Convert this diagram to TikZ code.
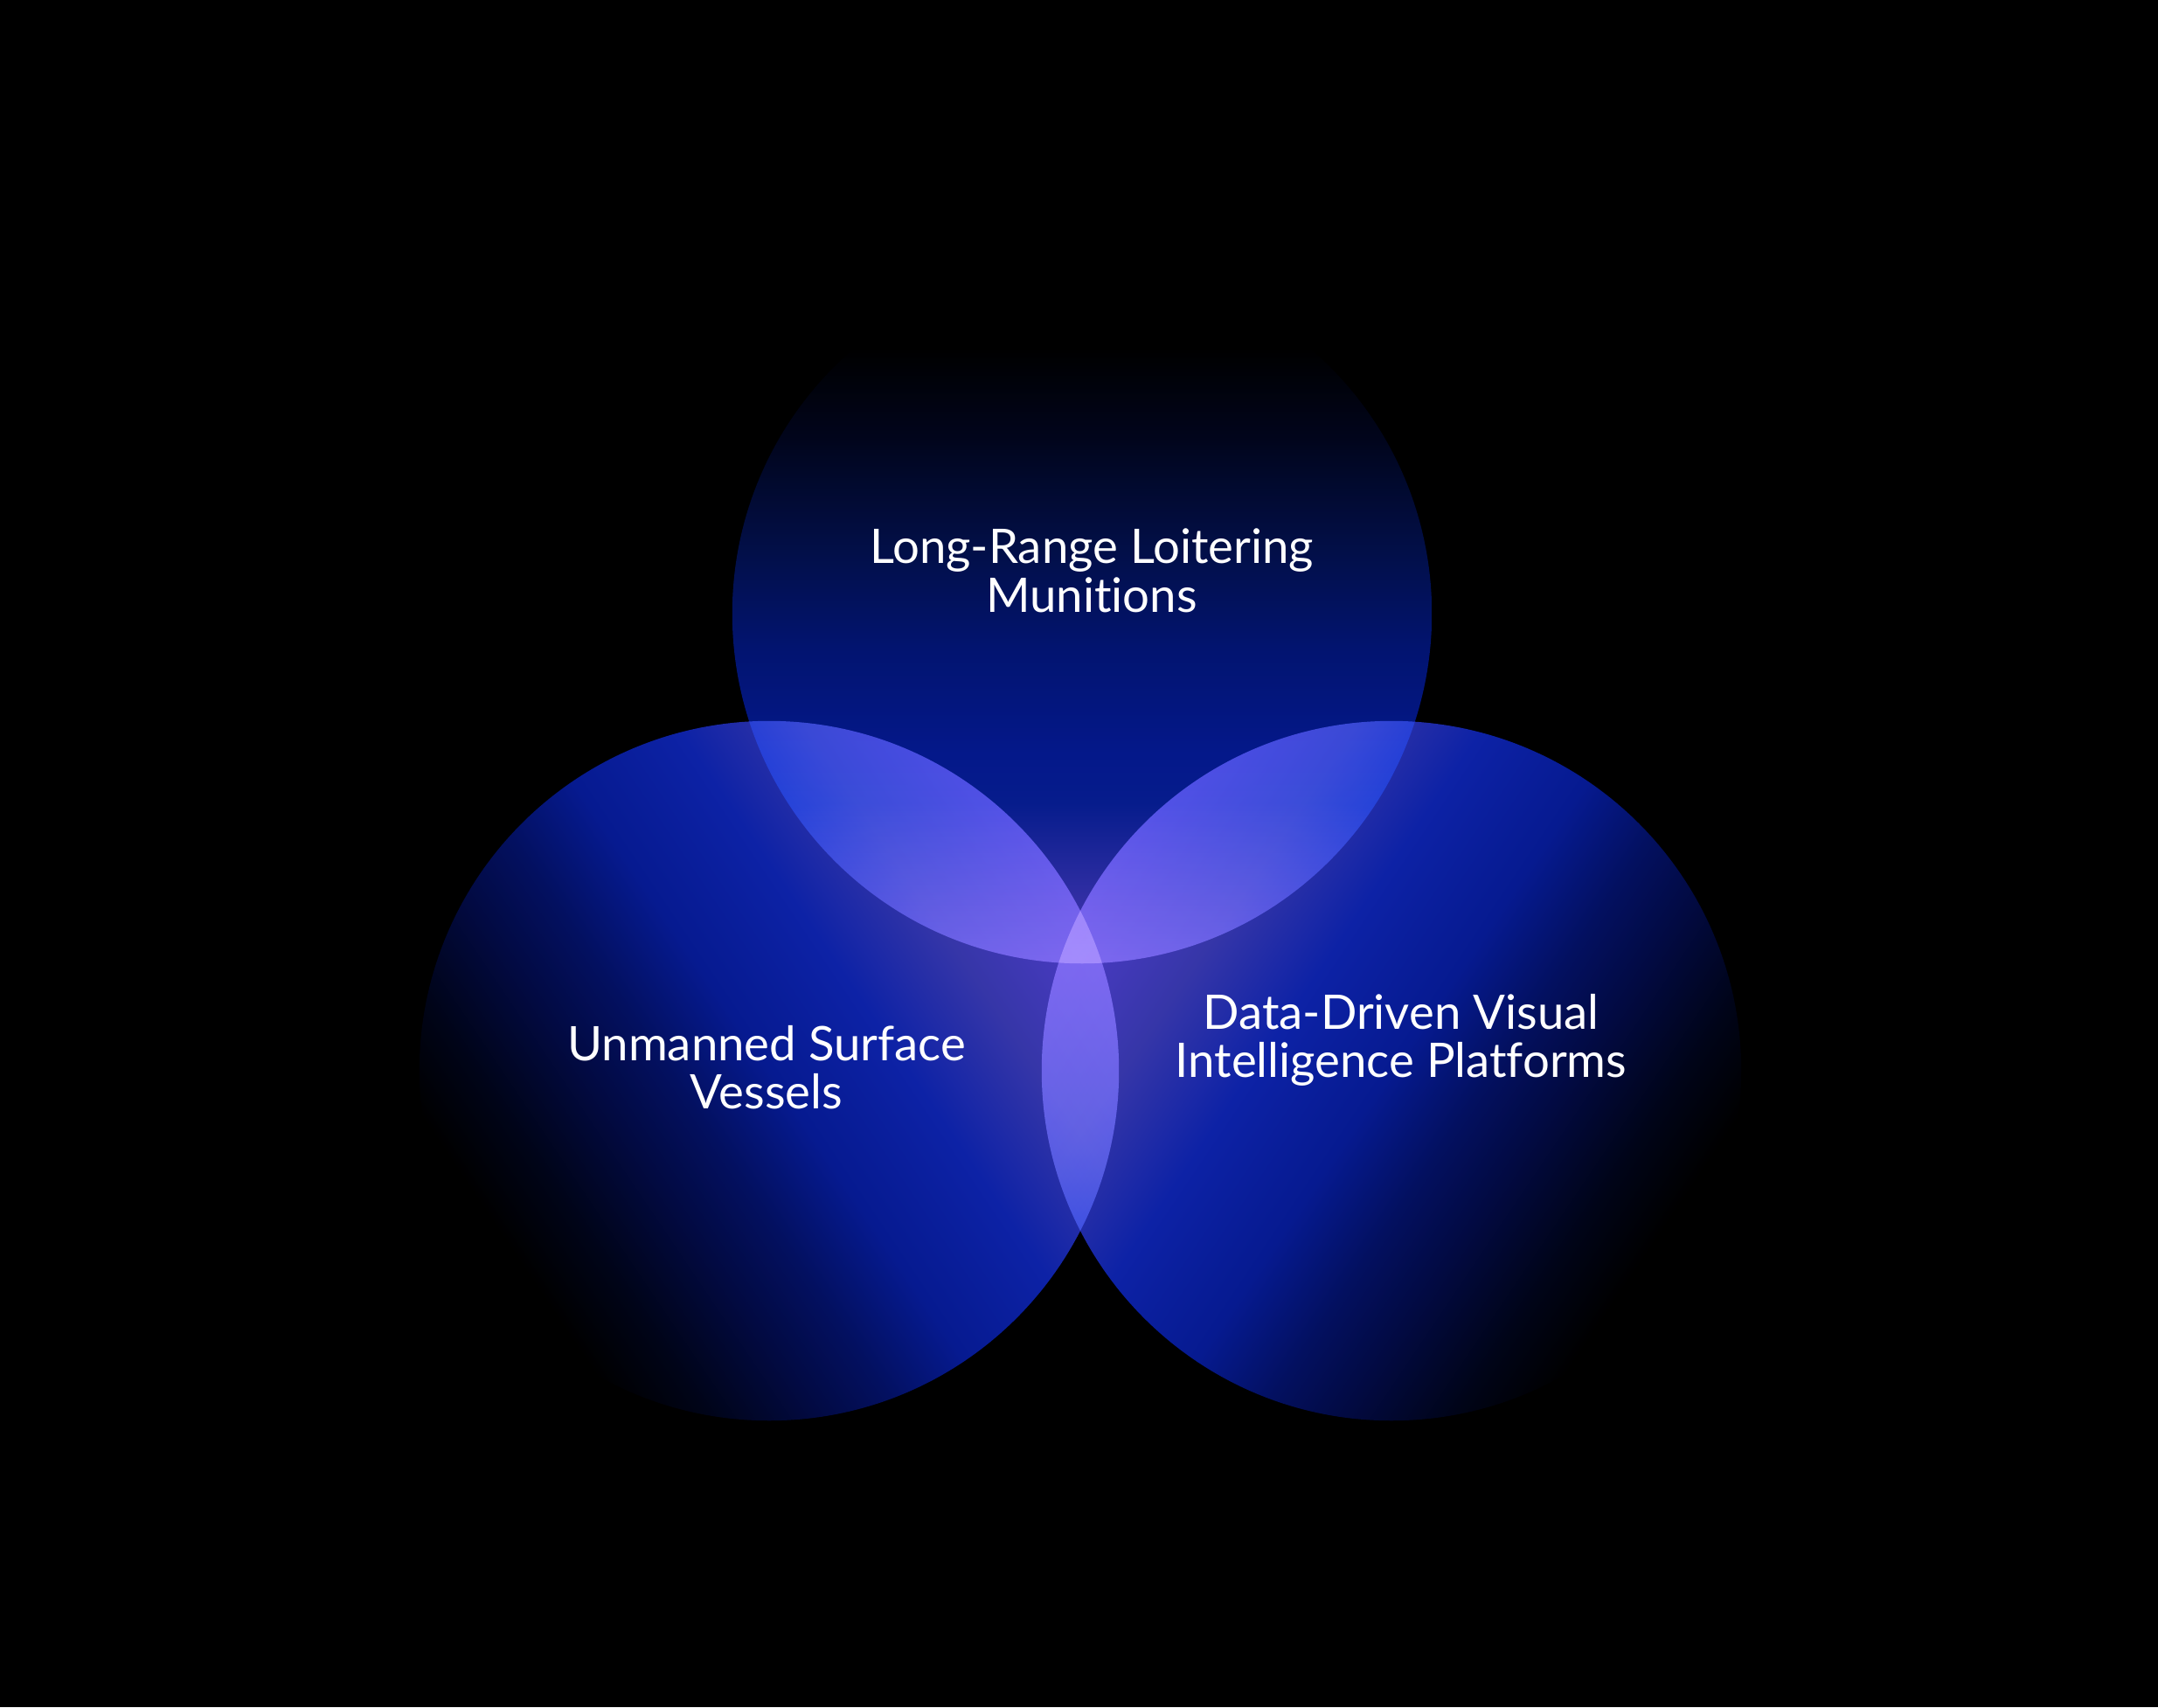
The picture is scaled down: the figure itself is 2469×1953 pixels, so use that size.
\documentclass[tikz,border=0pt]{standalone}
\usepackage{fontspec}
\setmainfont{Lato}[Ligatures=NoCommon]

\definecolor{topA}{HTML}{4A3AC0}
\definecolor{topB}{HTML}{3530A6}
\definecolor{topC}{HTML}{061C8C}
\definecolor{topD}{HTML}{04188A}
\definecolor{topE}{HTML}{021470}
\definecolor{topF}{HTML}{020F48}
\definecolor{topG}{HTML}{01051C}

\definecolor{sideA}{HTML}{4E3CC8}
\definecolor{sideB}{HTML}{3636A8}
\definecolor{sideC}{HTML}{0D22A6}
\definecolor{sideD}{HTML}{061A90}
\definecolor{sideE}{HTML}{031060}
\definecolor{sideF}{HTML}{020A42}
\definecolor{sideG}{HTML}{000418}

% light end at the bottom (25bp), dark end at the top (75bp)
\pgfdeclareverticalshading{glowtop}{100bp}{
  color(0bp)=(topA); color(25bp)=(topA); color(29bp)=(topB);
  color(36.5bp)=(topC); color(40bp)=(topD); color(47.5bp)=(topE);
  color(54.5bp)=(topF); color(62.5bp)=(topG); color(69bp)=(black);
  color(100bp)=(black)}
\pgfdeclareverticalshading{glowside}{100bp}{
  color(0bp)=(sideA); color(25bp)=(sideA); color(34bp)=(sideB);
  color(41.75bp)=(sideC); color(50bp)=(sideD); color(56bp)=(sideE);
  color(61bp)=(sideF); color(67.5bp)=(sideG); color(72.5bp)=(black);
  color(100bp)=(black)}

\begin{document}
\begin{tikzpicture}[
			x=0.01cm, y=-0.01cm,
			every node/.style = {font=\fontsize{15.5pt}{15.8pt}\selectfont},
			venn/.style       = {circle, minimum size=8cm, inner sep=0pt},
			vtext/.style      = {text=white, align=center}
			]
			%--- background ---
			\fill[black] (0,0) rectangle (2469,1953);
			\useasboundingbox (0,0) rectangle (2469,1953);
			
			%--- circles ---
			\begin{scope}[blend mode=screen]
			\node[venn, shading=glowtop,  shading angle=0]   (lrlm) at (1238,702)  {};
			\node[venn, shading=glowside, shading angle=124] (usv)  at (880,1225)  {};
			\node[venn, shading=glowside, shading angle=236] (ddvi) at (1592,1225) {};
			\end{scope}
			
			%--- labels ---
			\node[vtext] (lrlm-t) at (1249,653)  {Long-Range Loitering\\Munitions};
			\node[vtext] (usv-t)  at (877,1221)  {Unmanned Surface\\Vessels};
			\node[vtext] (ddvi-t) at (1603,1190) {Data-Driven Visual\\Intelligence Platforms};
		\end{tikzpicture}
\end{document}
